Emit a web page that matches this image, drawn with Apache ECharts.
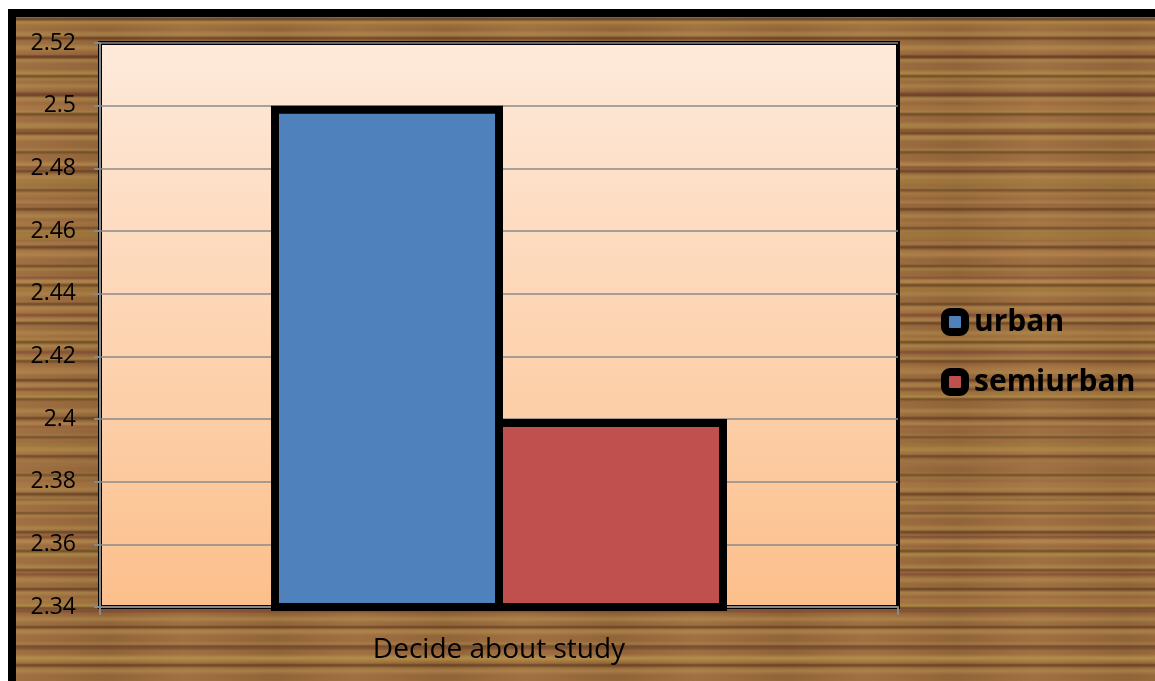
<!DOCTYPE html>
<html>
<head>
<meta charset="utf-8">
<script src="https://cdn.jsdelivr.net/npm/echarts@6/dist/echarts.min.js"></script>
<style>
  html, body { margin: 0; padding: 0; background: #fff; }
  #frame {
    position: absolute; left: 8px; top: 9px; width: 1147px; height: 672px;
    border-left: 8px solid #000; border-top: 8px solid #000;
    box-sizing: border-box;
    background-color: #9a6a3c;
    background-image:
      repeating-linear-gradient(180deg, rgba(60,30,12,0) 0px, rgba(60,30,12,0.5) 2px, rgba(60,30,12,0) 5px, rgba(60,30,12,0) 19px),
      repeating-linear-gradient(180deg, rgba(190,155,85,0) 0px, rgba(190,155,85,0.45) 4px, rgba(190,155,85,0) 8px, rgba(190,155,85,0) 13px),
      repeating-linear-gradient(180deg, rgba(105,45,45,0) 0px, rgba(105,45,45,0.45) 2px, rgba(105,45,45,0) 5px, rgba(105,45,45,0) 37px),
      repeating-linear-gradient(180deg, rgba(170,140,60,0) 0px, rgba(170,140,60,0.4) 6px, rgba(170,140,60,0) 12px, rgba(170,140,60,0) 53px),
      repeating-linear-gradient(180deg, rgba(200,140,80,0) 0px, rgba(200,140,80,0.3) 3px, rgba(200,140,80,0) 7px, rgba(200,140,80,0) 29px),
      repeating-linear-gradient(90deg, rgba(255,230,180,0.05) 0px, rgba(0,0,0,0.06) 90px, rgba(255,230,180,0.05) 170px);
  }
  #chart { position: absolute; left: 0; top: 0; width: 1155px; height: 681px; }
</style>
</head>
<body>
<div id="frame"></div>
<div id="chart"></div>
<script>
// chart values
const categories = ['Decide about study'];
const seriesNames = ['urban', 'semiurban'];
const urban = [2.5];
const semiurban = [2.4];
const colors = ['#4F81BD', '#C0504D'];

const font = '"Open Sans", Lato, "DejaVu Sans", sans-serif';

const chart = echarts.init(document.getElementById('chart'), null, { renderer: 'canvas' });

// bar borders are drawn inside the bar, so bars overlap by one border width
const barW = 232;
const border = 8;

chart.setOption({
    animation: false,
    backgroundColor: 'transparent',
    grid: {
        left: 100,
        right: 257,
        top: 43,
        bottom: 74,
        show: true,
        borderColor: '#000',
        borderWidth: 4,
        backgroundColor: {
            type: 'linear', x: 0, y: 0, x2: 0, y2: 1,
            colorStops: [
                { offset: 0, color: '#FEEADB' },
                { offset: 1, color: '#FCBF8B' },
            ],
        },
    },
    legend: {
        orient: 'vertical',
        left: 936,
        top: 302,
        itemGap: 30,
        itemWidth: 20,
        itemHeight: 20,
        icon: 'roundRect',
        itemStyle: { borderColor: '#000', borderWidth: 8 },
        textStyle: { fontFamily: font, fontWeight: 'bold', fontSize: 30, lineHeight: 30, color: '#000', padding: [0, 0, 0, 4] },
        data: seriesNames,
    },
    xAxis: {
        type: 'category',
        data: categories,
        axisLine: { lineStyle: { color: '#888', width: 2 } },
        axisTick: { show: true, length: 8, lineStyle: { color: '#888', width: 2 } },
        axisLabel: { fontFamily: font, fontSize: 28, color: '#000', margin: 29 },
    },
    yAxis: {
        type: 'value',
        min: 2.34,
        max: 2.52,
        interval: 0.02,
        axisLine: { show: true, lineStyle: { color: '#888', width: 2 } },
        axisTick: { show: true, length: 6, lineStyle: { color: '#888', width: 2 } },
        axisLabel: {
            fontFamily: font, fontSize: 23, color: '#000', margin: 24,
            formatter: (v) => String(parseFloat(v.toFixed(2))),
        },
        splitLine: { lineStyle: { color: '#8a8a8a', width: 1.5 } },
    },
    series: [
        {
            name: seriesNames[0],
            type: 'bar',
            data: urban,
            barWidth: barW,
            barGap: (-border / barW * 100).toFixed(2) + '%',
            itemStyle: { color: colors[0], borderColor: '#000', borderWidth: border },
        },
        {
            name: seriesNames[1],
            type: 'bar',
            data: semiurban,
            barWidth: barW,
            barGap: (-border / barW * 100).toFixed(2) + '%',
            itemStyle: { color: colors[1], borderColor: '#000', borderWidth: border },
        },
    ],
});
</script>
</body>
</html>
